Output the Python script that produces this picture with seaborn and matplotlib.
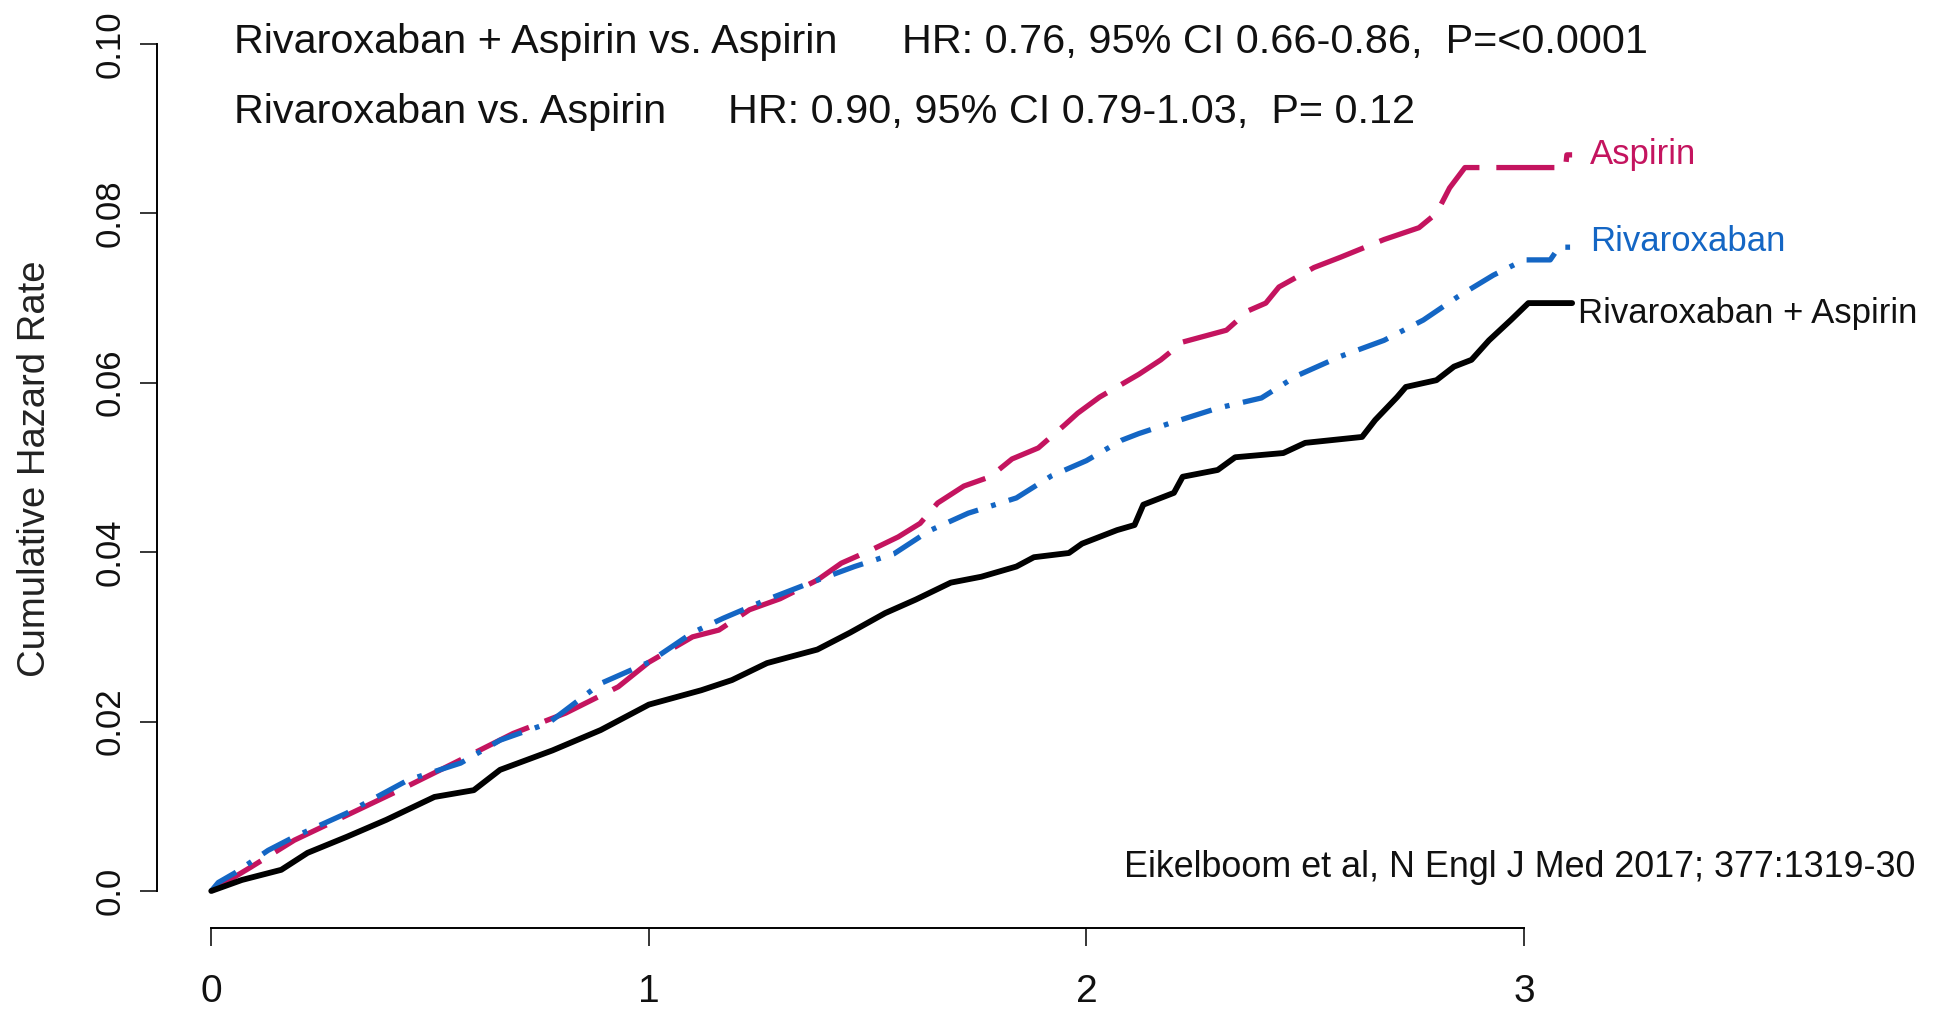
import matplotlib
matplotlib.use("Agg")
import matplotlib.pyplot as plt
import seaborn as sns
import pandas as pd

# Cumulative hazard curves (years since randomisation, cumulative hazard)
aspirin_t = [0.00, 0.09, 0.19, 0.30, 0.43, 0.555, 0.69, 0.81, 0.93, 1.00, 1.10, 1.16,
             1.23, 1.30, 1.385, 1.44, 1.51, 1.57, 1.62, 1.66, 1.72, 1.78, 1.83, 1.89,
             1.95, 1.98, 2.03, 2.08, 2.12, 2.17, 2.22, 2.32, 2.37, 2.41, 2.44, 2.52,
             2.58, 2.68, 2.76, 2.80, 2.83, 2.865, 3.095, 3.098, 3.11]
aspirin_h = [0.0000, 0.0028, 0.0060, 0.0087, 0.0119, 0.0151, 0.0186, 0.0210, 0.0241,
             0.0270, 0.0300, 0.0308, 0.0332, 0.0345, 0.0367, 0.0387, 0.0403, 0.0418,
             0.0434, 0.0458, 0.0478, 0.0489, 0.0510, 0.0523, 0.0550, 0.0564, 0.0583,
             0.0598, 0.0610, 0.0627, 0.0648, 0.0662, 0.0685, 0.0694, 0.0713, 0.0736,
             0.0748, 0.0769, 0.0783, 0.0800, 0.0830, 0.0854, 0.0854, 0.0869, 0.0869]

rivaroxaban_t = [0.00, 0.016, 0.053, 0.13, 0.19, 0.31, 0.45, 0.57, 0.66, 0.77, 0.89,
                 1.00, 1.10, 1.17, 1.27, 1.37, 1.47, 1.56, 1.64, 1.73, 1.84, 1.92,
                 2.00, 2.08, 2.12, 2.19, 2.30, 2.40, 2.48, 2.58, 2.68, 2.77, 2.85,
                 2.93, 3.00, 3.06, 3.08, 3.11]
rivaroxaban_h = [0.0000, 0.0010, 0.0021, 0.0048, 0.0064, 0.0092, 0.0131, 0.0151,
                 0.0178, 0.0198, 0.0245, 0.0270, 0.0305, 0.0322, 0.0344, 0.0364,
                 0.0383, 0.0398, 0.0425, 0.0446, 0.0464, 0.0490, 0.0508, 0.0532,
                 0.0540, 0.0552, 0.0570, 0.0582, 0.0608, 0.0631, 0.0650, 0.0674,
                 0.0702, 0.0727, 0.0745, 0.0745, 0.0760, 0.0760]

combo_t = [0.00, 0.07, 0.16, 0.22, 0.31, 0.40, 0.51, 0.60, 0.66, 0.78, 0.89, 1.00,
           1.12, 1.19, 1.27, 1.32, 1.385, 1.46, 1.54, 1.61, 1.69, 1.76, 1.84, 1.88,
           1.96, 1.99, 2.07, 2.11, 2.13, 2.20, 2.22, 2.30, 2.34, 2.45, 2.50, 2.63,
           2.66, 2.71, 2.73, 2.80, 2.84, 2.88, 2.92, 2.97, 3.01, 3.11]
combo_h = [0.0000, 0.0013, 0.0025, 0.0045, 0.0064, 0.0084, 0.0111, 0.0119, 0.0143,
           0.0166, 0.0190, 0.0220, 0.0237, 0.0249, 0.0269, 0.0276, 0.0285, 0.0305,
           0.0328, 0.0344, 0.0364, 0.0371, 0.0383, 0.0394, 0.0399, 0.0410, 0.0426,
           0.0432, 0.0456, 0.0470, 0.0489, 0.0497, 0.0512, 0.0517, 0.0529, 0.0536,
           0.0556, 0.0583, 0.0595, 0.0603, 0.0619, 0.0627, 0.0650, 0.0674, 0.0694,
           0.0694]

series_names = ["Aspirin", "Rivaroxaban", "Rivaroxaban + Aspirin"]
x_ticks = [0, 1, 2, 3]
x_tick_labels = ["0", "1", "2", "3"]
y_ticks = [0.0, 0.02, 0.04, 0.06, 0.08, 0.10]
y_tick_labels = ["0.0", "0.02", "0.04", "0.06", "0.08", "0.10"]

comparison_lines = [
    ("Rivaroxaban + Aspirin vs. Aspirin", "HR: 0.76, 95% CI 0.66-0.86,  P=<0.0001"),
    ("Rivaroxaban vs. Aspirin", "HR: 0.90, 95% CI 0.79-1.03,  P= 0.12"),
]
citation = "Eikelboom et al, N Engl J Med 2017; 377:1319-30"

sns.set_theme(style="white")
plt.rcParams["font.family"] = ["Liberation Sans", "DejaVu Sans"]

W, H = 1936, 1013
fig = plt.figure(figsize=(W / 100, H / 100), dpi=100)
ax = fig.add_axes([157 / W, 1 - 928 / H, (1622 - 157) / W, (928 - 10) / H])

magenta = "#C4145F"
blue = "#1466C4"
black = "#000000"

curves = [
    (aspirin_t, aspirin_h, magenta, (0, (11, 3.2)), 3.8),
    (rivaroxaban_t, rivaroxaban_h, blue, (0, (6, 2.6, 0.9, 2.6)), 3.8),
    (combo_t, combo_h, black, "-", 4.2),
]
for name, (t, h, col, ls, lw) in zip(series_names, curves):
    df = pd.DataFrame({"time": t, "hazard": h})
    sns.lineplot(data=df, x="time", y="hazard", ax=ax, color=col, linewidth=lw,
                 linestyle=ls, estimator=None, sort=False)

ax.set_xlim(-0.124, 3.224)
ax.set_ylim(-0.00437, 0.1040)

for side in ("top", "right"):
    ax.spines[side].set_visible(False)
for side in ("left", "bottom"):
    ax.spines[side].set_color("#000000")
    ax.spines[side].set_linewidth(1.4)
ax.spines["left"].set_bounds(0, 0.10)
ax.spines["bottom"].set_bounds(0, 3)

ax.set_xticks(x_ticks)
ax.set_xticklabels(x_tick_labels, fontsize=28, color="#111111")
ax.set_yticks(y_ticks)
ax.set_yticklabels(y_tick_labels, fontsize=25, rotation=90, va="center",
                   color="#111111")
ax.tick_params(axis="x", direction="out", length=13, width=1.1, pad=20,
               color="#000000", bottom=True)
ax.tick_params(axis="y", direction="out", length=12, width=1.1, pad=10,
               color="#000000", left=True)

ax.set_xlabel("")
ax.set_ylabel("Cumulative Hazard Rate", fontsize=27.5, color="#222222")
ax.yaxis.set_label_coords(-0.071, 0.5)

# Comparison statistics above the curves
for (left_txt, hr_txt), base_y, hr_x in zip(comparison_lines, [53, 123], [902, 728]):
    fig.text(234 / W, 1 - base_y / H, left_txt, fontsize=29.8, va="baseline",
             color="#111111")
    fig.text(hr_x / W, 1 - base_y / H, hr_txt, fontsize=29.8, va="baseline",
             color="#111111")

# Group labels at the end of each curve
ax.text(3.151, aspirin_h[-1], series_names[0], fontsize=25, color=magenta,
        va="center", ha="left", clip_on=False)
ax.text(3.151, rivaroxaban_h[-1] + 0.0007, series_names[1], fontsize=25, color=blue,
        va="center", ha="left", clip_on=False)
ax.text(3.123, combo_h[-1] - 0.0012, series_names[2], fontsize=25, color="#111111",
        va="center", ha="left", clip_on=False)

fig.text(1124 / W, 1 - 877 / H, citation, fontsize=25.8, va="baseline",
         color="#111111")

fig.savefig("out.png", dpi=100, facecolor="white")
